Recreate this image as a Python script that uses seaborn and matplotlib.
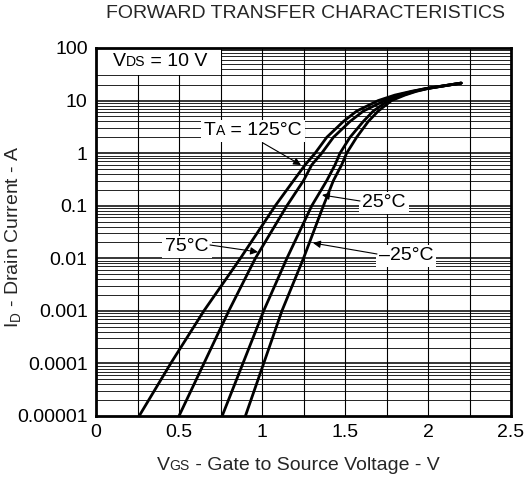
import numpy as np
import pandas as pd
import matplotlib
matplotlib.use("Agg")
import matplotlib.pyplot as plt
import seaborn as sns
from matplotlib.offsetbox import TextArea, HPacker, AnnotationBbox
from matplotlib.ticker import FixedLocator, NullFormatter

# ---- data ----
current_levels = [1e-5, 1e-4, 1e-3, 1e-2, 0.1, 0.3, 0.6, 1, 2, 4, 6.3, 10, 12.7, 15, 17, 21.5]
vgs_125 = [0.26, 0.45, 0.65, 0.87, 1.08, 1.19, 1.26, 1.32, 1.39, 1.49, 1.57, 1.70, 1.80, 1.90, 1.99, 2.20]
vgs_75 = [0.50, 0.65, 0.80, 0.96, 1.15, 1.25, 1.30, 1.36, 1.43, 1.53, 1.61, 1.74, 1.82, 1.91, 1.99, 2.20]
vgs_25 = [0.76, 0.885, 1.01, 1.15, 1.30, 1.39, 1.44, 1.47, 1.53, 1.61, 1.67, 1.76, 1.85, 1.92, 2.00, 2.20]
vgs_m25 = [0.90, 1.01, 1.12, 1.25, 1.37, 1.43, 1.48, 1.51, 1.57, 1.64, 1.70, 1.78, 1.86, 1.93, 2.00, 2.20]
temps = ["125", "75", "25", "-25"]
x_ticks = [0, 0.5, 1, 1.5, 2, 2.5]
x_tick_labels = ["0", "0.5", "1", "1.5", "2", "2.5"]
y_ticks = [1e-5, 1e-4, 1e-3, 1e-2, 1e-1, 1, 10, 100]
y_tick_labels = ["0.00001", "0.0001", "0.001", "0.01", "0.1", "1", "10", "100"]

frames = []
for t, v in zip(temps, [vgs_125, vgs_75, vgs_25, vgs_m25]):
    frames.append(pd.DataFrame({"VGS": v, "ID": current_levels, "TA": t}))
df = pd.concat(frames, ignore_index=True)

sns.set_style("white")
plt.rcParams["font.family"] = ["Liberation Sans", "DejaVu Sans"]
plt.rcParams["mathtext.fontset"] = "custom"
plt.rcParams["mathtext.rm"] = "Liberation Sans"

FS = 14

fig = plt.figure(figsize=(5.30, 4.78), dpi=100)
ax = fig.add_axes([96 / 530, 62 / 478, 415 / 530, 368 / 478])

ax.set_yscale("log")
ax.set_xlim(0, 2.5)
ax.set_ylim(1e-5, 100)

# grid
for xv in np.arange(0.25, 2.5, 0.25):
    ax.axvline(xv, color="black", lw=0.8, zorder=1)
for dec in range(-5, 2):
    for m in range(1, 10):
        yv = m * 10.0 ** dec
        if m == 1:
            if dec > -5:
                ax.axhline(yv, color="black", lw=1.1, zorder=1)
        else:
            ax.axhline(yv, color="black", lw=0.6, zorder=1)

sns.lineplot(data=df, x="VGS", y="ID", hue="TA", palette=["black"] * 4,
             estimator=None, sort=False, lw=2.0, legend=False, ax=ax, zorder=3)

ax.set_xticks(x_ticks)
ax.set_xticklabels(x_tick_labels)
ax.yaxis.set_major_locator(FixedLocator(y_ticks))
ax.set_yticklabels(y_tick_labels)
ax.yaxis.set_minor_formatter(NullFormatter())
ax.tick_params(axis="both", which="both", length=0, labelsize=FS, colors="black")
ax.tick_params(axis="x", pad=6)
ax.tick_params(axis="y", pad=6)
for s in ax.spines.values():
    s.set_linewidth(2)
    s.set_color("black")
    s.set_zorder(5)

ax.set_xlabel("")
ax.set_ylabel("")

# white box behind VDS label (covers grid)
ax.fill_between([0, 0.75], 30, 100, color="white", zorder=2, lw=0)


def px2data(px, py):
    return (px - 96) / 166.0, 10 ** ((416 - py) / 52.57 - 5)


def sub_label(parts, xy, fs=FS, bg=True, ha=0.5):
    kids = []
    for txt, small in parts:
        kids.append(TextArea(txt, textprops=dict(fontsize=fs * (0.72 if small else 1.0), color="black")))
    pack = HPacker(children=kids, align="baseline", pad=0, sep=0)
    ab = AnnotationBbox(pack, xy, xycoords="data", box_alignment=(ha, 0.5),
                        frameon=bg, pad=0.2,
                        bboxprops=dict(fc="white", ec="none"), zorder=6)
    ax.add_artist(ab)


sub_label([("V", False), ("DS", True), (" = 10 V", False)], px2data(160, 62), bg=False)
sub_label([("T", False), ("A", True), (" = 125°C", False)], px2data(253, 131))
sub_label([("25°C", False)], px2data(384, 203))
sub_label([("75°C", False)], px2data(187, 247))
sub_label([("–25°C", False)], px2data(406, 256))

arrow = dict(arrowstyle="-|>", color="black", lw=0.8, mutation_scale=11,
             shrinkA=0, shrinkB=0)
for start, tip in [((263, 143), (301, 165)),
                   ((360, 201), (322, 195)),
                   ((210, 245), (258, 252)),
                   ((377, 254), (313, 243))]:
    ax.annotate("", xy=px2data(*tip), xytext=px2data(*start),
                xycoords="data", textcoords="data", arrowprops=arrow, zorder=7)

# title, axis labels
fig.text(305 / 530, 1 - 14 / 478, "FORWARD TRANSFER CHARACTERISTICS",
         ha="center", va="center", fontsize=FS)
fig.text(14 / 530, 1 - 237 / 478, "I$_{\\mathregular{D}}$ - Drain Current - A",
         rotation=90, ha="center", va="center", fontsize=FS)
xl = HPacker(children=[TextArea("V", textprops=dict(fontsize=FS)),
                       TextArea("GS", textprops=dict(fontsize=FS * 0.72)),
                       TextArea(" - Gate to Source Voltage - V", textprops=dict(fontsize=FS))],
             align="baseline", pad=0, sep=0)
ab = AnnotationBbox(xl, (298 / 530, 1 - 465 / 478), xycoords="figure fraction",
                    box_alignment=(0.5, 0.5), frameon=False)
fig.add_artist(ab)

fig.savefig("out.png", dpi=100)
